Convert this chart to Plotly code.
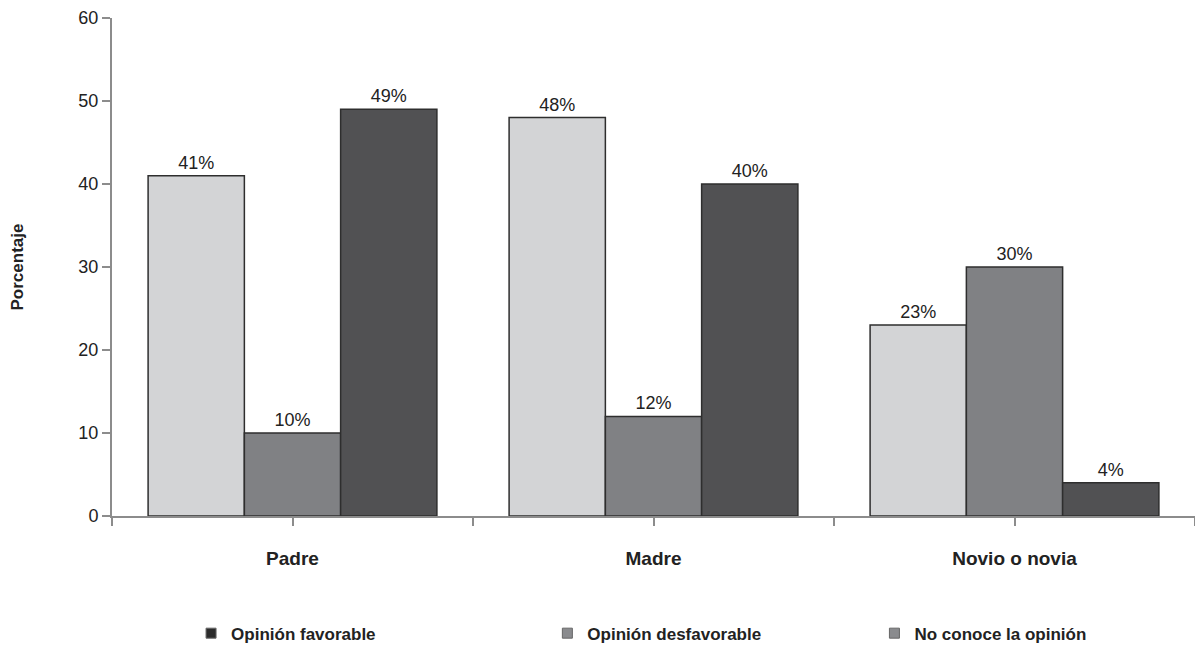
import plotly.graph_objects as go

categories = ["Padre", "Madre", "Novio o novia"]
series_names = ["Opinión favorable", "Opinión desfavorable", "No conoce la opinión"]
favorable = [41, 48, 23]
desfavorable = [10, 12, 30]
no_conoce = [49, 40, 4]
y_ticks = [0, 10, 20, 30, 40, 50, 60]

bar_colors = ["#d3d4d6", "#808184", "#515153"]
legend_colors = ["#2b2b2b", "#8a8b8e", "#8a8b8e"]

x_pos = list(range(len(categories)))
FONT = "Liberation Sans, Arial"

fig = go.Figure()
for name, vals, col in zip(series_names, [favorable, desfavorable, no_conoce], bar_colors):
    fig.add_trace(go.Bar(
        x=x_pos, y=vals, name=name, showlegend=False,
        marker=dict(color=col, line=dict(color="#2e2e2e", width=1.5)),
        texttemplate="%{y}%", textposition="outside",
        textfont=dict(family=FONT, size=18, color="#222"),
        cliponaxis=False,
    ))

legend_ids = ["legend", "legend2", "legend3"]
legend_x = [0.073, 0.402, 0.704]
for name, col, lid in zip(series_names, legend_colors, legend_ids):
    fig.add_trace(go.Scatter(
        x=[None], y=[None], mode="markers", name=name, legend=lid,
        marker=dict(symbol="square", size=10, color=col, line=dict(color="#666", width=1)),
    ))

# tick positions at group centres and group boundaries
tickvals = []
ticktext = []
for i, c in enumerate(categories):
    tickvals += [i - 0.5, i]
    ticktext += ["", c]
tickvals.append(len(categories) - 0.5)
ticktext.append("")

axis_col = "#8c8c8c"
layout_legends = {}
for lid, lx in zip(legend_ids, legend_x):
    layout_legends[lid] = dict(
        x=lx, xref="paper", y=0.024, yref="container", xanchor="left", yanchor="middle",
        orientation="h", bgcolor="rgba(0,0,0,0)",
        font=dict(family=FONT, size=17, color="#222", weight="bold"),
        itemwidth=30,
    )

fig.update_layout(
    width=1195, height=641,
    margin=dict(l=104, r=8, t=10, b=133, autoexpand=False),
    paper_bgcolor="white", plot_bgcolor="white",
    barmode="group", bargap=0.2, bargroupgap=0,
    xaxis=dict(
        range=[-0.5, len(categories) - 0.5], automargin=False,
        tickmode="array", tickvals=tickvals, ticktext=ticktext,
        ticks="outside", ticklen=8, tickwidth=2, tickcolor=axis_col,
        showline=True, linecolor=axis_col, linewidth=2,
        showgrid=False, zeroline=False,
        ticklabelstandoff=16,
        tickfont=dict(family=FONT, size=19, color="#222", weight="bold"),
    ),
    yaxis=dict(
        range=[0, 60], tickmode="array", tickvals=y_ticks, automargin=False,
        ticks="outside", ticklen=8, tickwidth=2, tickcolor=axis_col,
        showline=True, linecolor=axis_col, linewidth=2,
        showgrid=False, zeroline=False,
        tickfont=dict(family=FONT, size=18, color="#222"),
        title=dict(text="Porcentaje", standoff=50,
                   font=dict(family=FONT, size=17, color="#222", weight="bold")),
    ),
    **layout_legends,
)

fig.write_html("out.html")
